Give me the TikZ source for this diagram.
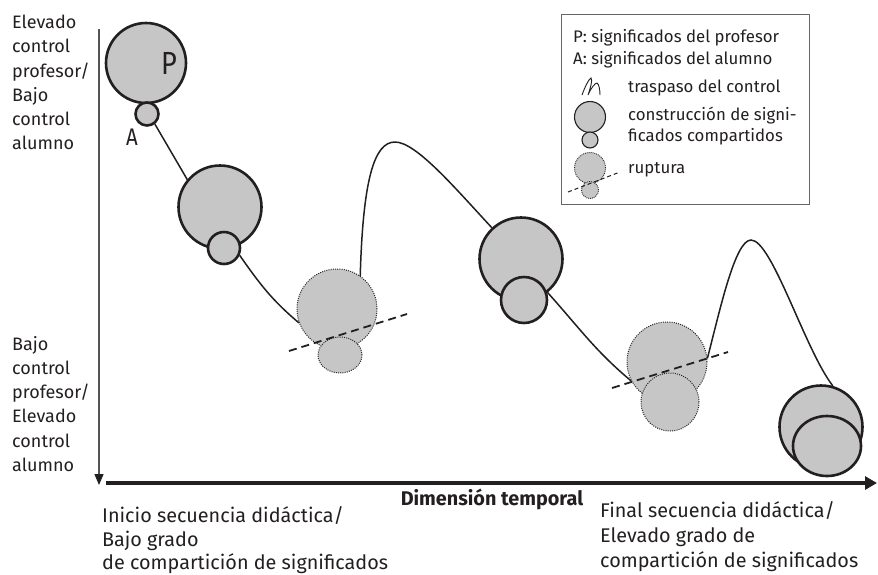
\documentclass[tikz,border=0pt]{standalone}
\usepackage{fontspec}
\setmainfont{Fira Sans}
\usetikzlibrary{arrows.meta,shapes.geometric}
\definecolor{cfill}{HTML}{C6C6C6}
\definecolor{ink}{HTML}{231F20}
\definecolor{axisgray}{HTML}{555555}
\begin{document}
\begin{tikzpicture}[x=1pt,y=-1pt,
  solidc/.style={circle,draw=ink,fill=cfill,line width=2.6pt,inner sep=0pt,minimum size=#1},
  dotc/.style={circle,draw=black!85,fill=cfill,line width=1pt,dash pattern=on 1pt off 1.2pt,inner sep=0pt,minimum size=#1},
  dotell/.style={ellipse,draw=black!85,fill=cfill,line width=1pt,dash pattern=on 1pt off 1.2pt,inner sep=0pt},
  solidell/.style={ellipse,draw=ink,fill=cfill,line width=2.6pt,inner sep=0pt},
  curve/.style={draw=ink,line width=1.5pt},
  cutline/.style={draw=ink,line width=1.8pt,dash pattern=on 8pt off 5pt},
  sidelbl/.style={font=\fontsize{18}{24.2}\selectfont,align=left,anchor=north west,inner sep=0pt,text=ink},
  botlbl/.style={font=\fontsize{19.8}{24}\selectfont,align=left,anchor=base west,inner sep=0pt,text=ink},
  leglbl/.style={font=\fontsize{16.8}{21}\selectfont,align=left,anchor=base west,inner sep=0pt,text=ink},
  legc/.style={circle,draw=ink,fill=cfill,line width=1.1pt,inner sep=0pt,minimum size=#1},
  legdot/.style={circle,draw=black!85,fill=cfill,line width=0.9pt,dash pattern=on 0.9pt off 1pt,inner sep=0pt,minimum size=#1},
]
\useasboundingbox (0,0) rectangle (878,574);

% axes
\coordinate (vtop) at (99,29);
\coordinate (vbot) at (99,485);
\coordinate (hleft) at (106,483);
\coordinate (hright) at (877,483);
\draw[axisgray,line width=1.3pt,-{Triangle[length=11pt,width=9pt,color=ink]}] (vtop) -- (vbot);
\draw[ink,line width=4pt,-{Triangle[length=12pt,width=13pt]}] (hleft) -- (hright);

% side labels
\node[sidelbl] (ltop) at (12,15) {Elevado\\control\\profesor/\\Bajo\\control\\alumno};
\node[sidelbl] (lbot) at (12,336) {Bajo\\control\\profesor/\\Elevado\\control\\alumno};
\node[botlbl] (binit1) at (102,522) {Inicio secuencia didáctica/};
\node[botlbl] (binit2) at (102,546) {Bajo grado};
\node[botlbl] (binit3) at (102,569) {de compartición de significados};
\node[botlbl] (bfin1) at (600,517) {Final secuencia didáctica/};
\node[botlbl] (bfin2) at (600,542) {Elevado grado de};
\node[botlbl] (bfin3) at (600,567) {compartición de significados};
\node[font=\fontsize{19.8}{22}\selectfont\bfseries,anchor=base,inner sep=0pt,text=ink] (dimt) at (492,505) {Dimensión temporal};

% circles
\node[solidc=80pt] (p1) at (146,63) {};
\node[solidc=23pt] (a1) at (147,114) {};
\node[font=\fontsize{32}{32}\selectfont\addfontfeatures{FakeStretch=0.85},text=ink,inner sep=0pt] (lp) at (169,63) {P};
\node[font=\fontsize{24}{24}\selectfont\addfontfeatures{FakeStretch=0.85},text=ink,inner sep=0pt] (la) at (132,137) {A};

\node[solidc=83pt] (p2) at (220,207) {};
\node[solidc=32pt] (a2) at (224,248) {};

\node[dotc=80pt] (p3) at (337,309) {};
\node[dotell,minimum width=44pt,minimum height=36pt] (a3) at (340,355) {};

\node[solidc=83pt] (p4) at (521,259) {};
\node[solidc=46pt] (a4) at (524,300) {};

\node[dotc=80pt] (p5) at (667,362) {};
\node[dotc=58pt] (a5) at (670,402) {};

\node[solidc=83pt] (p6) at (821,427) {};
\node[solidell,minimum width=68pt,minimum height=60pt] (a6) at (827,446) {};

% peaks
\coordinate (pk1) at (395,142);
\coordinate (pk2) at (751,240);

% curves
\draw[curve] (a1.-52) -- (p2.140);
\draw[curve] (a2.-25) to[out=-55,in=140] (p3.-160);
\draw[curve] (p3.55) .. controls (363,180) and (374,142) .. (pk1) .. controls (416,142) and (455,188) .. (p4.133);
\draw[curve] (a4.20) to[out=-48,in=140] (p5.-152);
\draw[curve] (p5.5) .. controls (720,310) and (735,240) .. (pk2) .. controls (772,240) and (805,350) .. (p6.74);

% cut lines
\coordinate (d3a) at (289,351);
\coordinate (d3b) at (407,314);
\coordinate (d5a) at (612,388);
\coordinate (d5b) at (728,352);
\draw[cutline] (d3a) -- (d3b);
\draw[cutline] (d5a) -- (d5b);

% legend
\node[draw=black!60,line width=1.1pt,minimum width=248pt,minimum height=190pt,inner sep=0pt,anchor=north west] (legend) at (561,14) {};
\node[leglbl] (lg1) at (573,42) {P: significados del profesor};
\node[leglbl] (lg2) at (573,64) {A: significados del alumno};
\node[leglbl] (lg3) at (628,92) {traspaso del control};
\node[leglbl] (lg4) at (628,120) {construcción de signi-};
\node[leglbl] (lg5) at (628,141) {ficados compartidos};
\node[leglbl] (lg6) at (628,173) {ruptura};
\draw[ink,line width=0.9pt] (582,95) .. controls (585,87) and (588,80) .. (591,78) .. controls (593,80) and (590,89) .. (588,95) .. controls (591,88) and (595,83) .. (597,83) .. controls (599,84) and (600,90) .. (600,95);
\node[legc=31pt] (lgbig) at (590,117) {};
\node[legc=16pt] (lgsmall) at (590,140) {};
\node[legdot=31pt] (lgdbig) at (590,168) {};
\node[legdot=17pt] (lgdsmall) at (590,190) {};
\coordinate (lgda) at (568,192);
\coordinate (lgdb) at (620,172);
\draw[ink,line width=1pt,dash pattern=on 4pt off 3pt] (lgda) -- (lgdb);
\end{tikzpicture}
\end{document}
